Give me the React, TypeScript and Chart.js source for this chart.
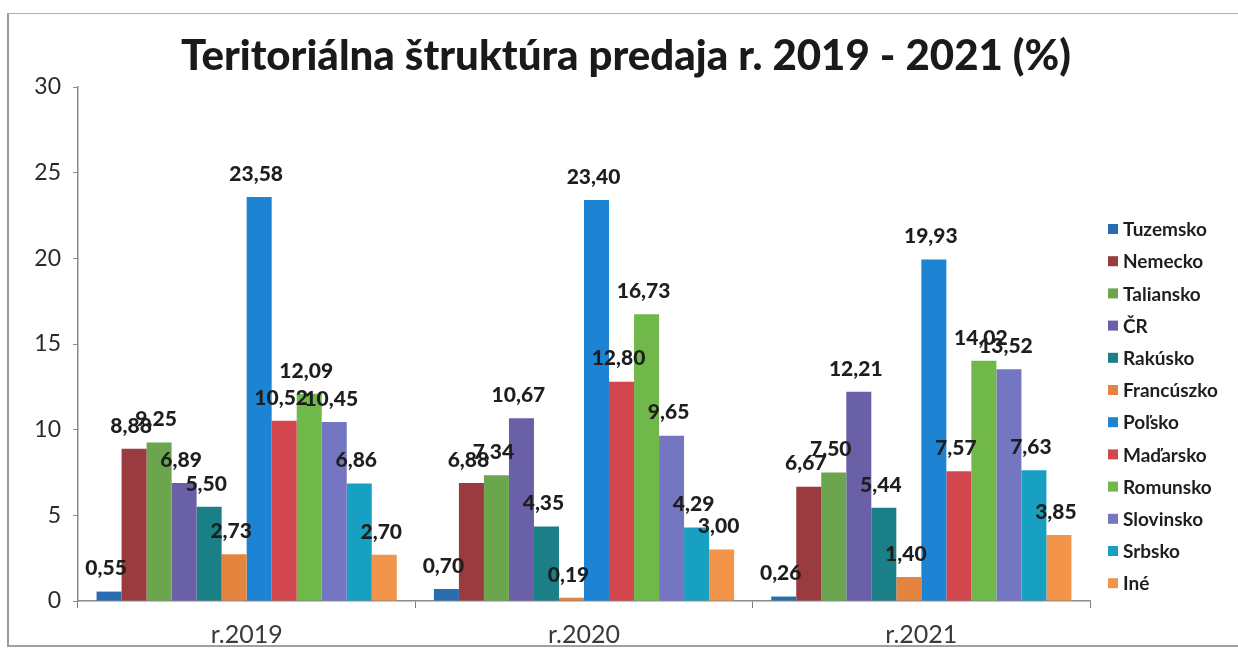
import React, { useEffect, useRef } from "react";
import { Chart, registerables } from "chart.js";

Chart.register(...registerables);

const TITLE = "Teritoriálna štruktúra predaja r. 2019 - 2021 (%)";
const categories = ["r.2019", "r.2020", "r.2021"];
const seriesNames = [
  "Tuzemsko", "Nemecko", "Taliansko", "ČR", "Rakúsko", "Francúszko",
  "Poľsko", "Maďarsko", "Romunsko", "Slovinsko", "Srbsko", "Iné",
];
const tuzemsko = [0.55, 0.7, 0.26];
const nemecko = [8.88, 6.88, 6.67];
const taliansko = [9.25, 7.34, 7.5];
const cr = [6.89, 10.67, 12.21];
const rakusko = [5.5, 4.35, 5.44];
const francuzsko = [2.73, 0.19, 1.4];
const polsko = [23.58, 23.4, 19.93];
const madarsko = [10.52, 12.8, 7.57];
const romunsko = [12.09, 16.73, 14.02];
const slovinsko = [10.45, 9.65, 13.52];
const srbsko = [6.86, 4.29, 7.63];
const ine = [2.7, 3.0, 3.85];
const seriesValues = [
  tuzemsko, nemecko, taliansko, cr, rakusko, francuzsko,
  polsko, madarsko, romunsko, slovinsko, srbsko, ine,
];
const colors = [
  "#2A6CB0", "#9A3B40", "#6BA64E", "#6A60A8", "#1B7F87", "#E5843F",
  "#1C84D2", "#D2474E", "#71B84A", "#7476C2", "#18A0C2", "#F2954A",
];
const yTicks = [0, 5, 10, 15, 20, 25, 30];

const FONT = "Lato, 'Open Sans', sans-serif";

const fmt = (v: number) => v.toFixed(2).replace(".", ",");

const labelsPlugin = {
  id: "valueLabels",
  afterDatasetsDraw(chart: any) {
    const ctx = chart.ctx;
    ctx.save();
    ctx.font = `900 21px ${FONT}`;
    ctx.fillStyle = "#1e1e1e";
    ctx.textAlign = "center";
    ctx.textBaseline = "middle";
    chart.data.datasets.forEach((ds: any, di: number) => {
      const meta = chart.getDatasetMeta(di);
      meta.data.forEach((bar: any, i: number) => {
        ctx.fillText(fmt(ds.data[i]), bar.x - 3, bar.y - 23);
      });
    });
    ctx.restore();
  },
};

const titleLegendPlugin = {
  id: "titleLegend",
  afterDraw(chart: any) {
    const ctx = chart.ctx;
    const area = chart.chartArea;
    ctx.save();
    ctx.font = `900 42px ${FONT}`;
    ctx.fillStyle = "#1a1a1a";
    ctx.textAlign = "center";
    ctx.textBaseline = "middle";
    ctx.fillText(TITLE, chart.width / 2 + 7, 56);

    ctx.font = `bold 19px ${FONT}`;
    ctx.textAlign = "left";
    const x0 = area.right + 18;
    const step = 32.2;
    const y0 = 229;
    chart.data.datasets.forEach((ds: any, i: number) => {
      const y = y0 + i * step;
      ctx.fillStyle = ds.backgroundColor;
      ctx.fillRect(x0, y - 5, 10, 10);
      ctx.fillStyle = "#1e1e1e";
      ctx.fillText(ds.label, x0 + 15, y + 1);
    });
    ctx.restore();
  },
};

export default function App() {
  const ref = useRef<HTMLCanvasElement>(null);
  useEffect(() => {
    if (!ref.current) return;
    const chart = new Chart(ref.current, {
      type: "bar",
      data: {
        labels: categories,
        datasets: seriesNames.map((name, i) => ({
          label: name,
          data: seriesValues[i],
          backgroundColor: colors[i],
          borderWidth: 0,
          barPercentage: 1.0,
          categoryPercentage: 0.89,
        })),
      },
      options: {
        animation: false,
        responsive: true,
        maintainAspectRatio: false,
        layout: { padding: { top: 87, right: 148, left: 0, bottom: 0 } },
        plugins: {
          legend: { display: false },
          title: { display: false },
          tooltip: { enabled: false },
        },
        scales: {
          x: {
            grid: {
              display: true,
              drawOnChartArea: false,
              drawTicks: true,
              tickLength: 7,
              color: "#7a7a7a",
              offset: true,
            },
            border: { display: true, color: "#8a8a8a", width: 1.5 },
            ticks: {
              color: "#3a3a3a",
              font: { family: FONT, size: 25 },
              padding: 12,
            },
            afterFit(scale: any) {
              scale.height = 49;
            },
          },
          y: {
            min: 0,
            max: 30,
            afterBuildTicks(scale: any) {
              scale.ticks = yTicks.map((v) => ({ value: v }));
            },
            grid: {
              display: true,
              drawOnChartArea: false,
              drawTicks: true,
              tickLength: 5,
              color: "#8a8a8a",
            },
            border: { display: true, color: "#8a8a8a", width: 1.5 },
            ticks: {
              color: "#2a2a2a",
              font: { family: FONT, size: 23 },
              padding: 12,
            },
            afterFit(scale: any) {
              scale.width = 78;
            },
          },
        },
      },
      plugins: [labelsPlugin, titleLegendPlugin],
    });
    return () => chart.destroy();
  }, []);

  return (
    <div
      style={{
        position: "absolute",
        left: 0,
        top: 0,
        width: 1238,
        height: 650,
        background: "#fff",
      }}
    >
      <div
        style={{
          position: "absolute",
          left: 7,
          top: 13,
          width: 1231,
          height: 634,
          borderLeft: "2px solid #9a9a9a",
          borderTop: "1px solid #b0b0b0",
          borderBottom: "2px solid #a0a0a0",
          boxSizing: "border-box",
        }}
      />
      <div style={{ position: "absolute", left: 0, top: 0, width: 1238, height: 650 }}>
        <canvas ref={ref} />
      </div>
    </div>
  );
}
